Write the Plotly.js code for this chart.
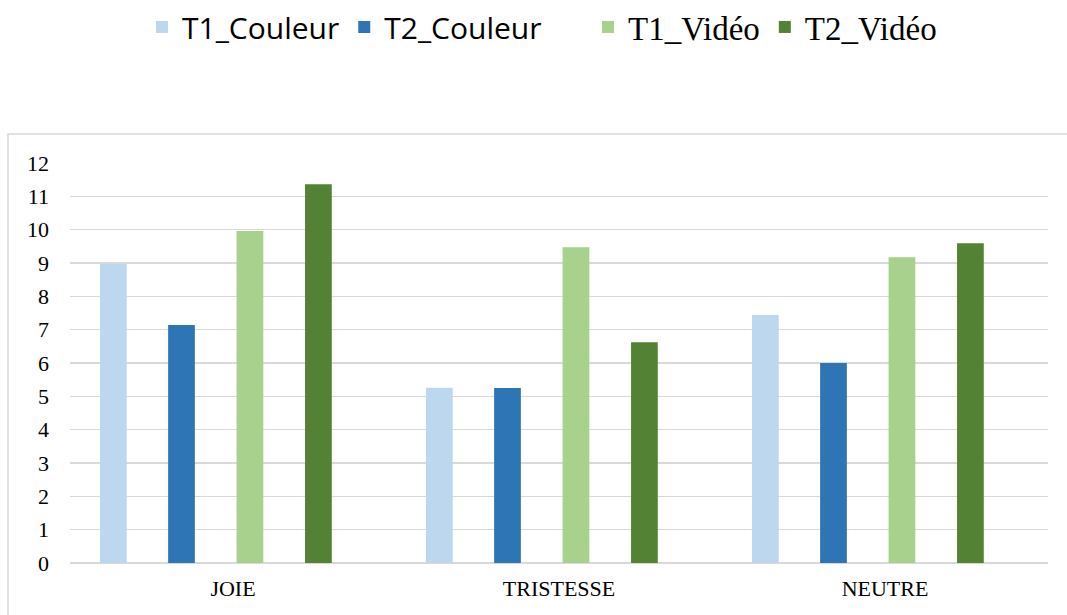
<!DOCTYPE html>
<html>
<head>
<meta charset="utf-8">
<script src="https://cdn.plot.ly/plotly-3.0.1.min.js"></script>
<style>html,body{margin:0;padding:0;background:#fff;}#chart{width:1067px;height:615px;}</style>
</head>
<body>
<div id="chart"></div>
<script>
const categories = ["JOIE", "TRISTESSE", "NEUTRE"];
const seriesNames = ["T1_Couleur", "T2_Couleur", "T1_Vidéo", "T2_Vidéo"];
const t1Couleur = [8.97, 5.26, 7.44];
const t2Couleur = [7.14, 5.25, 6.00];
const t1Video = [9.96, 9.47, 9.17];
const t2Video = [11.36, 6.62, 9.59];
const yTicks = [0,1,2,3,4,5,6,7,8,9,10,11,12];

const colors = ["#BDD7EE", "#2E75B6", "#A9D18E", "#548235"];
const offsets = [-0.408, -0.199, 0.011, 0.221];
const values = [t1Couleur, t2Couleur, t1Video, t2Video];
const legendIds = ["legend", "legend", "legend2", "legend2"];

const data = values.map((v, i) => ({
  type: "bar",
  x: categories,
  y: v,
  name: seriesNames[i],
  legend: legendIds[i],
  marker: {color: colors[i]},
  width: 0.082,
  offset: offsets[i],
  hoverinfo: "x+y"
}));

const W = 1067, H = 615, ML = 70, MR = 19, MT = 163, MB = 52;
const PW = W - ML - MR, PH = H - MT - MB;
const px2x = p => (p - ML) / PW;
const py2y = p => (H - MB - p) / PH;

const layout = {
  width: W,
  height: H,
  margin: {l: ML, r: MR, t: MT, b: MB, autoexpand: false},
  paper_bgcolor: "#ffffff",
  plot_bgcolor: "#ffffff",
  barmode: "overlay",
  showlegend: true,
  legend: {
    orientation: "h",
    x: px2x(142), xanchor: "left",
    y: py2y(27), yanchor: "middle",
    font: {family: "Open Sans, sans-serif", size: 30, color: "#000"},
    traceorder: "normal",
    itemclick: false
  },
  legend2: {
    orientation: "h",
    x: px2x(588), xanchor: "left",
    y: py2y(27), yanchor: "middle",
    font: {family: "Liberation Serif, Times New Roman, serif", size: 33, color: "#000"},
    traceorder: "normal",
    itemclick: false
  },
  xaxis: {
    type: "category",
    range: [-0.5, 2.5],
    showgrid: false,
    zeroline: false,
    showline: false,
    ticks: "",
    ticklabelstandoff: 10,
    tickfont: {family: "Liberation Serif, Times New Roman, serif", size: 22, color: "#000"}
  },
  yaxis: {
    range: [0, 12],
    tickvals: yTicks,
    ticktext: yTicks.map(String),
    showgrid: true,
    gridcolor: "#d9d9d9",
    gridwidth: 1.5,
    zeroline: true,
    zerolinecolor: "#d9d9d9",
    zerolinewidth: 1.5,
    showline: false,
    ticks: "",
    ticklabelstandoff: 20,
    tickfont: {family: "Liberation Serif, Times New Roman, serif", size: 22, color: "#000"}
  },
  shapes: [{
    type: "rect", xref: "paper", yref: "paper",
    x0: px2x(8), x1: px2x(1080), y0: py2y(630), y1: py2y(134),
    line: {color: "#d9d9d9", width: 1.5},
    fillcolor: "rgba(0,0,0,0)",
    layer: "below"
  }]
};

Plotly.newPlot("chart", data, layout, {displayModeBar: false, staticPlot: true});
</script>
</body>
</html>
